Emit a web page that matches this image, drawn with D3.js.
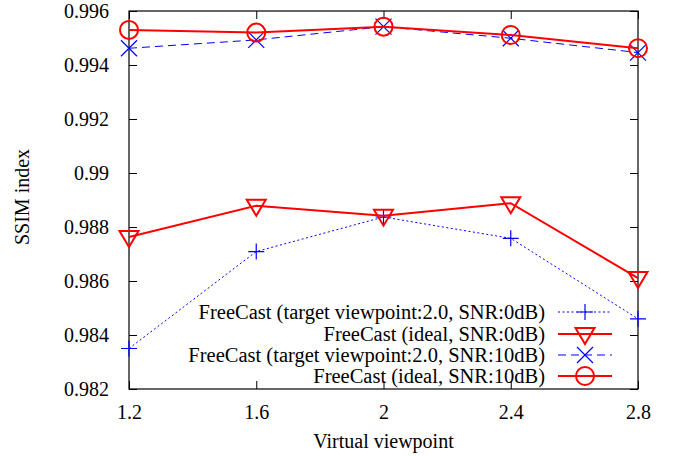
<!DOCTYPE html>
<html>
<head>
<meta charset="utf-8">
<script src="https://cdn.jsdelivr.net/npm/d3@7"></script>
<style>
  html, body { margin: 0; padding: 0; background: #fff; }
</style>
</head>
<body>
<svg id="chart" width="678" height="456"></svg>
<script>
// Virtual viewpoints on the x axis
const viewpoints = [1.2, 1.6, 2.0, 2.4, 2.8];

// SSIM values per scheme
const targetSnr0  = [0.9835, 0.98709, 0.98837, 0.98758, 0.9846];
const idealSnr0   = [0.98763, 0.98879, 0.98842, 0.98888, 0.98611];
const targetSnr10 = [0.99462, 0.99493, 0.99542, 0.99499, 0.99446];
const idealSnr10  = [0.9953, 0.9952, 0.99542, 0.99511, 0.99462];

const seriesNames = [
  "FreeCast (target viewpoint:2.0, SNR:0dB)",
  "FreeCast (ideal, SNR:0dB)",
  "FreeCast (target viewpoint:2.0, SNR:10dB)",
  "FreeCast (ideal, SNR:10dB)"
];

const xTicks = [1.2, 1.6, 2.0, 2.4, 2.8];
const yTicks = [0.982, 0.984, 0.986, 0.988, 0.99, 0.992, 0.994, 0.996];

const FONT = "'Liberation Serif', 'Times New Roman', serif";
const FS = 20;

const styles = [
  { color: "#0000ff", width: 1, dash: "2,2.5", marker: "plus" },
  { color: "#ff0000", width: 2, dash: null, marker: "triangleDown" },
  { color: "#0000ff", width: 1, dash: "8,5", marker: "cross" },
  { color: "#ff0000", width: 2, dash: null, marker: "circle" }
];
const seriesData = [targetSnr0, idealSnr0, targetSnr10, idealSnr10];

const svg = d3.select("#chart");
const L = 129, R = 638, T = 11, B = 389;

const x = d3.scaleLinear().domain([1.2, 2.8]).range([L, R]);
const y = d3.scaleLinear().domain([0.982, 0.996]).range([B, T]);

const fmtY = d => d3.format(".3~f")(d);
const fmtX = d => d3.format("~g")(d);

// Axes with inward ticks, mirrored on the opposite sides
const tickLen = 8;
const axisGroup = svg.append("g");
axisGroup.append("g").attr("transform", `translate(0,${B})`)
  .call(d3.axisBottom(x).tickValues(xTicks).tickSize(-tickLen).tickPadding(tickLen + 8).tickFormat(fmtX));
axisGroup.append("g").attr("transform", `translate(0,${T})`)
  .call(d3.axisTop(x).tickValues(xTicks).tickSize(-tickLen).tickFormat(""));
axisGroup.append("g").attr("transform", `translate(${L},0)`)
  .call(d3.axisLeft(y).tickValues(yTicks).tickSize(-tickLen).tickPadding(tickLen + 12).tickFormat(fmtY));
axisGroup.append("g").attr("transform", `translate(${R},0)`)
  .call(d3.axisRight(y).tickValues(yTicks).tickSize(-tickLen).tickFormat(""));
axisGroup.selectAll(".domain").remove();
axisGroup.selectAll("g").attr("font-family", FONT).attr("font-size", FS);
axisGroup.selectAll(".tick line").attr("stroke", "#000").attr("stroke-width", 1);
axisGroup.selectAll(".tick text").attr("fill", "#000");

// Frame
svg.append("rect").attr("x", L).attr("y", T).attr("width", R - L).attr("height", B - T)
  .attr("fill", "none").attr("stroke", "#000").attr("stroke-width", 1.2);

// Axis titles
svg.append("text").attr("x", (L + R) / 2).attr("y", 448).attr("text-anchor", "middle")
  .attr("font-family", FONT).attr("font-size", FS).text("Virtual viewpoint");
svg.append("text").attr("transform", `translate(29,${197}) rotate(-90)`)
  .attr("text-anchor", "middle").attr("font-family", FONT).attr("font-size", FS).text("SSIM index");

// Marker shapes
function drawMarker(g, type, cx, cy, color) {
  if (type === "plus") {
    g.append("path").attr("d", `M${cx - 8},${cy}H${cx + 8}M${cx},${cy - 8}V${cy + 8}`)
      .attr("stroke", color).attr("stroke-width", 1.2).attr("fill", "none");
  } else if (type === "cross") {
    g.append("path").attr("d", `M${cx - 8},${cy - 8}L${cx + 8},${cy + 8}M${cx - 8},${cy + 8}L${cx + 8},${cy - 8}`)
      .attr("stroke", color).attr("stroke-width", 1.2).attr("fill", "none");
  } else if (type === "triangleDown") {
    g.append("path").attr("d", `M${cx - 9.5},${cy - 6}L${cx + 9.5},${cy - 6}L${cx},${cy + 10}Z`)
      .attr("stroke", color).attr("stroke-width", 2).attr("fill", "none");
  } else if (type === "circle") {
    g.append("circle").attr("cx", cx).attr("cy", cy).attr("r", 9)
      .attr("stroke", color).attr("stroke-width", 2).attr("fill", "none");
  }
}

// Series lines and markers
const line = d3.line().x((d, i) => x(viewpoints[i])).y(d => y(d));
const plot = svg.append("g");
seriesData.forEach((vals, k) => {
  const s = styles[k];
  plot.append("path").datum(vals).attr("d", line)
    .attr("fill", "none").attr("stroke", s.color).attr("stroke-width", s.width)
    .attr("stroke-dasharray", s.dash);
  vals.forEach((v, i) => drawMarker(plot, s.marker, x(viewpoints[i]), y(v), s.color));
});

// Legend
const legend = svg.append("g");
const legendY = [312, 334, 355, 376];
seriesNames.forEach((name, k) => {
  const s = styles[k];
  const ly = legendY[k];
  legend.append("text").attr("x", 545).attr("y", ly + 7).attr("text-anchor", "end")
    .attr("font-family", FONT).attr("font-size", 20.5).attr("fill", "#000").text(name);
  legend.append("line").attr("x1", 558).attr("x2", 612).attr("y1", ly).attr("y2", ly)
    .attr("stroke", s.color).attr("stroke-width", s.width).attr("stroke-dasharray", s.dash);
  drawMarker(legend, s.marker, 585, ly, s.color);
});
</script>
</body>
</html>
